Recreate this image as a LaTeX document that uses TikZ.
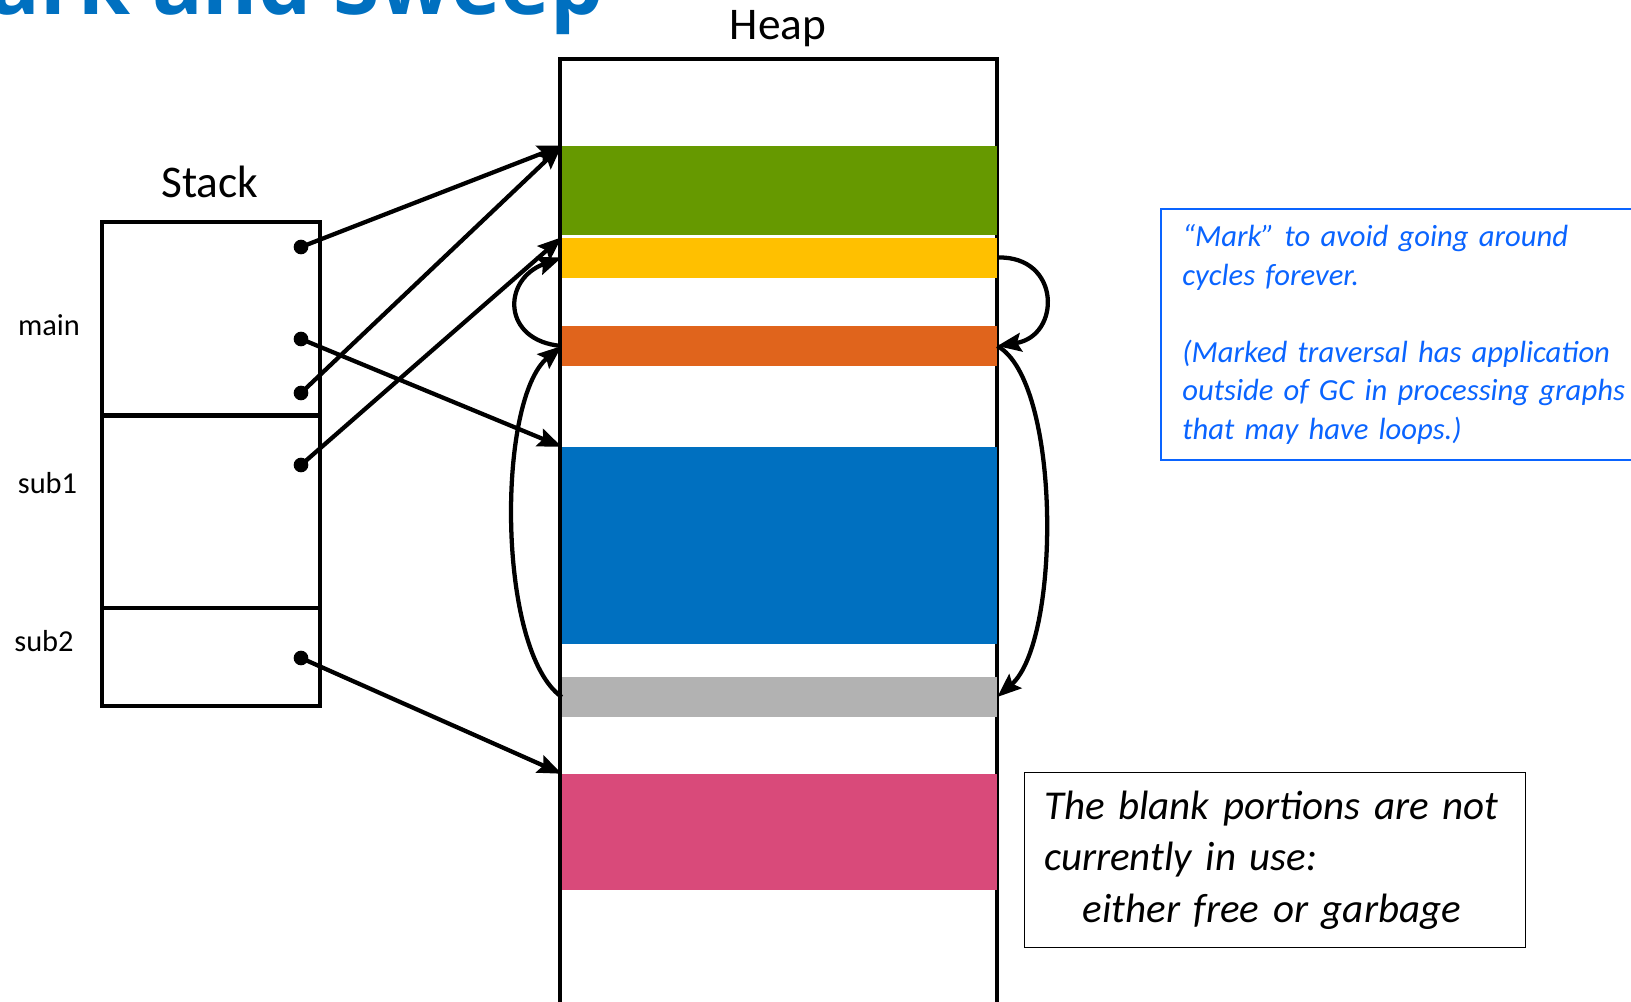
\documentclass[tikz,border=0pt]{standalone}
\usepackage{fontspec}
\setmainfont{Carlito}
\newfontfamily\titlefont{Open Sans}
\usetikzlibrary{arrows.meta}

\definecolor{titleblue}{HTML}{0070C0}
\definecolor{objgreen}{HTML}{669900}
\definecolor{objyellow}{HTML}{FFC000}
\definecolor{objorange}{HTML}{E0641C}
\definecolor{objblue}{HTML}{0070C0}
\definecolor{objgray}{HTML}{B2B2B2}
\definecolor{objpink}{HTML}{D94A7A}
\definecolor{noteblue}{HTML}{0A64FF}

\begin{document}
\begin{tikzpicture}[x=0.75pt, y=-0.75pt,
    frame/.style={draw, line width=3pt, inner sep=0pt, minimum width=163.5pt},
    ref/.style={circle, fill, inner sep=0pt, minimum size=11pt},
    obj/.style={inner sep=0pt, minimum width=326.25pt},
    ptr/.style={line width=3.2pt, -{Stealth[length=18pt, width=14pt, inset=3pt]}},
    lbl/.style={font=\fontsize{34}{40}\selectfont, inner sep=0pt, anchor=base},
    fr/.style={font=\fontsize{22.8}{27}\selectfont, inner sep=0pt, anchor=base}]

  \clip (0,0) rectangle (1631,1002);

  \node[font=\titlefont\bfseries\fontsize{63}{66}\selectfont, text=titleblue,
    inner sep=0pt, anchor=base east] (title) at (604,15) {Mark and Sweep};

  % stack frames
  \node[lbl] (stack) at (210,197.7) {Stack};
  \node[frame, minimum height=144.75pt] (mainf) at (211,318.5) {};
  \node[frame, minimum height=144pt] (sub1f) at (211,511.5) {};
  \node[frame, minimum height=73.5pt] (sub2f) at (211,656.5) {};
  \node[fr] (main) at (49,335) {main};
  \node[fr] (sub1) at (47.5,493.3) {sub1};
  \node[fr] (sub2) at (44,651.7) {sub2};

  % heap
  \node[lbl] (heap) at (778,40) {Heap};
  \draw[line width=2.8pt] (560,1020) -- (560,59) -- (997,59) -- (997,1020);
  \node[obj, fill=objgreen, minimum height=66.75pt] (green) at (779.5,190.5) {};
  \node[obj, fill=objyellow, minimum height=30pt] (yellow) at (779.5,257.5) {};
  \node[obj, fill=objorange, minimum height=30pt] (orange) at (779.5,346) {};
  \node[obj, fill=objblue, minimum height=147.75pt] (blue) at (779.5,545.5) {};
  \node[obj, fill=objgray, minimum height=30pt] (gray) at (779.5,697) {};
  \node[obj, fill=objpink, minimum height=87pt] (pink) at (779.5,832) {};

  \node[ref] (m1) at (301,247) {};
  \node[ref] (m2) at (301,339) {};
  \node[ref] (m3) at (301,393) {};
  \node[ref] (s1) at (301,465) {};
  \node[ref] (s2) at (301,658) {};

  \begin{scope}[ptr]
    \draw (m1.center) -- (green.north west);
    \draw (m3.center) -- (green.north west);
    \draw (m2.center) -- (blue.north west);
    \draw (s1.center) -- (yellow.north west);
    \draw (s2.center) -- (pink.north west);
    \draw (orange.west) .. controls +(-60,-5) and +(-60,22) .. (yellow.west);
    \draw (gray.west) .. controls +(-65,-46) and +(-65,54) .. (orange.west);
    \draw (yellow.east) .. controls +(64,-2) and +(64,-10) .. (orange.east);
    \draw (orange.east) .. controls +(64,35) and +(64,-56) .. (gray.east);
  \end{scope}

  % notes
  \node[draw=noteblue, line width=1.5pt, anchor=north west, inner xsep=16pt,
    text width=360pt, minimum height=188.25pt, align=left, text=noteblue,
    font=\itshape\fontsize{23}{28.9}\selectfont] (note) at (1160,208)
    {“Mark” to avoid going around\\
     cycles forever.\\[28.9pt]
     (Marked traversal has application\\
     outside of GC in processing graphs\\
     that may have loops.)};
  \node[draw, line width=1.1pt, anchor=north west, inner xsep=14.5pt,
    text width=346.75pt, minimum height=131.25pt, align=left,
    font=\itshape\fontsize{30.75}{38.8}\selectfont] (blank) at (1024,772)
    {The blank portions are not\\
     currently in use:\\
     \hspace*{28.9pt}either free or garbage};
\end{tikzpicture}
\end{document}
